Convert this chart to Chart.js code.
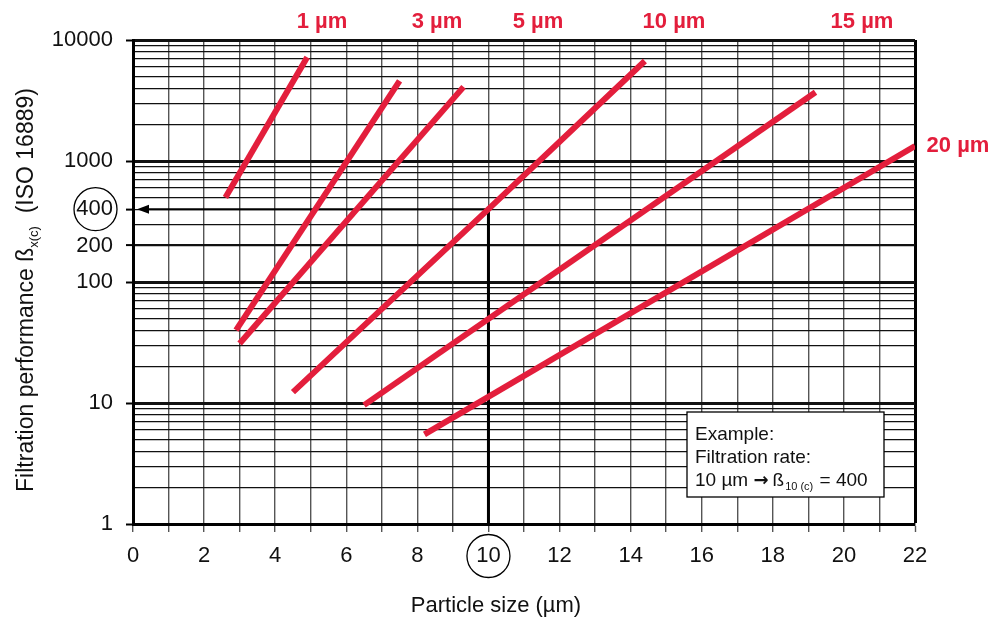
<!DOCTYPE html>
<html>
<head>
<meta charset="utf-8">
<script src="https://cdn.jsdelivr.net/npm/chart.js@4/dist/chart.umd.min.js"></script>
<style>
  body { margin: 0; background: #fff; }
  canvas { display: block; }
</style>
</head>
<body>
<canvas id="chart" width="995" height="620"></canvas>
<script>
// --- data ---
const sizeLabels = ['1 µm', '3 µm', '5 µm', '10 µm', '15 µm', '20 µm'];

const x1um = [2.6, 4.9];
const y1um = [500, 7200];
const x3um = [2.9, 7.5];
const y3um = [40, 4600];
const x5um = [3.0, 9.3];
const y5um = [31, 4100];
const x10um = [4.5, 10, 14.4];
const y10um = [12.3, 400, 6700];
const x15um = [6.5, 19.2];
const y15um = [9.6, 3700];
const x20um = [8.2, 22];
const y20um = [5.5, 1330];

const xTickLabels = [0, 2, 4, 6, 8, 10, 12, 14, 16, 18, 20, 22];
const yTickLabels = [1, 10, 100, 200, 400, 1000, 10000];
const boldY = [1, 10, 100, 200, 1000, 10000];

const exampleSize = 10;
const exampleBeta = 400;

const RED = '#e31e3c';
const FONT = "'Liberation Sans', Arial, sans-serif";

Chart.defaults.font.family = FONT;
Chart.defaults.color = '#111';

function toPoints(xs, ys) {
    return xs.map((x, i) => ({ x: x, y: ys[i] }));
}

const seriesX = [x1um, x3um, x5um, x10um, x15um, x20um];
const seriesY = [y1um, y3um, y5um, y10um, y15um, y20um];

const datasets = seriesX.map((xs, i) => ({
    label: sizeLabels[i],
    data: toPoints(xs, seriesY[i]),
    showLine: true,
    borderColor: RED,
    borderWidth: 6,
    borderCapStyle: 'butt',
    pointRadius: 0,
    fill: false
}));

// log grid: 1..9 x 10^n
const yGridValues = [];
[1, 10, 100, 1000].forEach(d => {
    for (let k = 1; k < 10; k++) yGridValues.push(k * d);
});
yGridValues.push(10000);

// --- extras: titles, circles, arrow, example box ---
const overlay = {
    id: 'overlay',
    beforeDatasetsDraw(chart) {
        const { ctx, chartArea, scales } = chart;
        const px = scales.x.getPixelForValue(exampleSize);
        const py = scales.y.getPixelForValue(exampleBeta);
        ctx.save();
        ctx.strokeStyle = '#000';
        ctx.fillStyle = '#000';
        // vertical line down to axis
        ctx.lineWidth = 3;
        ctx.beginPath();
        ctx.moveTo(px, py);
        ctx.lineTo(px, chartArea.bottom);
        ctx.stroke();
        // arrow to y axis
        ctx.lineWidth = 2;
        ctx.beginPath();
        ctx.moveTo(px, py);
        ctx.lineTo(chartArea.left + 14, py);
        ctx.stroke();
        ctx.beginPath();
        ctx.moveTo(chartArea.left + 4, py);
        ctx.lineTo(chartArea.left + 16, py - 4.5);
        ctx.lineTo(chartArea.left + 16, py + 4.5);
        ctx.closePath();
        ctx.fill();
        ctx.restore();
    },
    afterDraw(chart) {
        const { ctx, scales } = chart;
        ctx.save();

        // circles round the example tick labels
        ctx.strokeStyle = '#000';
        ctx.lineWidth = 1.3;
        ctx.beginPath();
        ctx.arc(95.5, scales.y.getPixelForValue(exampleBeta), 21.5, 0, Math.PI * 2);
        ctx.stroke();
        ctx.beginPath();
        ctx.arc(scales.x.getPixelForValue(exampleSize), 556, 21.5, 0, Math.PI * 2);
        ctx.stroke();

        // red size labels
        ctx.fillStyle = RED;
        ctx.font = 'bold 22px ' + FONT;
        ctx.textAlign = 'center';
        ctx.textBaseline = 'middle';
        const labelPos = [[322, 22], [437, 22], [538, 22], [674, 22], [862, 22], [958, 146]];
        sizeLabels.forEach((t, i) => ctx.fillText(t, labelPos[i][0], labelPos[i][1]));

        // example box
        ctx.fillStyle = '#fff';
        ctx.fillRect(687, 412, 197, 85);
        ctx.strokeStyle = '#000';
        ctx.lineWidth = 1.3;
        ctx.strokeRect(687, 412, 197, 85);
        ctx.fillStyle = '#111';
        ctx.textAlign = 'left';
        ctx.textBaseline = 'alphabetic';
        ctx.font = '19px ' + FONT;
        ctx.fillText('Example:', 695, 440);
        ctx.fillText('Filtration rate:', 695, 463);
        let tx = 695;
        const line3a = exampleSize + ' µm ';
        ctx.fillText(line3a, tx, 486);
        tx += ctx.measureText(line3a).width;
        ctx.font = "bold 18px 'DejaVu Sans', sans-serif";
        ctx.fillText('→', tx, 486);
        tx += ctx.measureText('→').width + 4;
        ctx.font = '19px ' + FONT;
        ctx.fillText('ß', tx, 486);
        tx += ctx.measureText('ß').width;
        ctx.font = '11px ' + FONT;
        const sub = exampleSize + ' (c)';
        ctx.fillText(sub, tx + 1, 490);
        tx += ctx.measureText(sub).width + 2;
        ctx.font = '19px ' + FONT;
        ctx.fillText(' = ' + exampleBeta, tx, 486);

        // x axis title
        ctx.font = '22px ' + FONT;
        ctx.textAlign = 'center';
        ctx.textBaseline = 'middle';
        ctx.fillText('Particle size (µm)', 496, 606);

        // y axis title with subscript
        ctx.translate(25, 290);
        ctx.rotate(-Math.PI / 2);
        const partA = 'Filtration performance ß';
        const partB = 'x(c)';
        const partC = '  (ISO 16889)';
        ctx.font = '23px ' + FONT;
        const wA = ctx.measureText(partA).width;
        const wC = ctx.measureText(partC).width;
        ctx.font = '13px ' + FONT;
        const wB = ctx.measureText(partB).width;
        let sx = -(wA + wB + wC) / 2;
        ctx.textAlign = 'left';
        ctx.textBaseline = 'alphabetic';
        ctx.font = '23px ' + FONT;
        ctx.fillText(partA, sx, 8);
        sx += wA;
        ctx.font = '13px ' + FONT;
        ctx.fillText(partB, sx, 13);
        sx += wB;
        ctx.font = '23px ' + FONT;
        ctx.fillText(partC, sx, 8);

        ctx.restore();
    }
};

new Chart(document.getElementById('chart'), {
    type: 'scatter',
    data: { datasets: datasets },
    options: {
        responsive: false,
        animation: false,
        devicePixelRatio: 1,
        layout: { padding: { top: 40, right: 80, left: 0, bottom: 0 } },
        plugins: {
            legend: { display: false },
            tooltip: { enabled: false }
        },
        scales: {
            x: {
                type: 'linear',
                min: 0,
                max: 22,
                afterFit: s => { s.height = 96; },
                border: { display: true, color: '#000', width: 3 },
                grid: {
                    color: c => (c.tick && c.tick.value === 22) ? '#000' : '#555',
                    lineWidth: c => (c.tick && c.tick.value === 22) ? 3 : 1.4,
                    tickLength: 8,
                    tickColor: '#555',
                    tickWidth: 1.4
                },
                ticks: {
                    stepSize: 1,
                    autoSkip: false,
                    maxRotation: 0,
                    padding: 11,
                    font: { size: 22 },
                    color: '#111',
                    callback: v => xTickLabels.includes(v) ? String(v) : ''
                }
            },
            y: {
                type: 'logarithmic',
                min: 1,
                max: 10000,
                afterFit: s => { s.width = 133; },
                afterBuildTicks: s => { s.ticks = yGridValues.map(v => ({ value: v })); },
                border: { display: true, color: '#000', width: 3 },
                grid: {
                    color: '#111',
                    lineWidth: c => (c.tick && boldY.includes(c.tick.value)) ? (c.tick.value === 200 ? 2.2 : 3) : 1.2,
                    tickLength: 7,
                    tickColor: c => (c.tick && yTickLabels.includes(c.tick.value)) ? '#000' : 'rgba(0,0,0,0)',
                    tickWidth: 2
                },
                ticks: {
                    autoSkip: false,
                    padding: 13,
                    font: { size: 22 },
                    color: '#111',
                    callback: v => yTickLabels.includes(v) ? String(v) : ''
                }
            }
        }
    },
    plugins: [overlay]
});
</script>
</body>
</html>
